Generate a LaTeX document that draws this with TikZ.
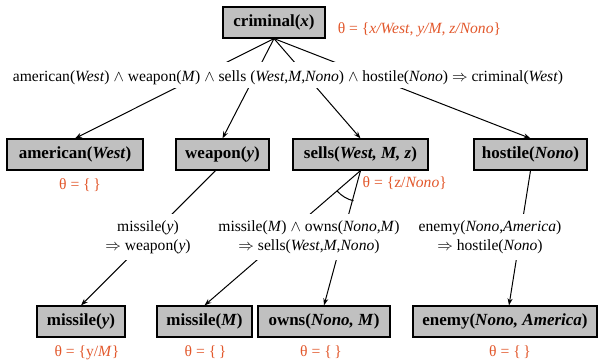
\RequirePackage{fix-cm}
\documentclass[tikz,border=0pt]{standalone}
\usepackage{fontspec}
\setmainfont{Liberation Serif}
\usetikzlibrary{positioning,arrows.meta}
\definecolor{goalgray}{RGB}{192,192,192}
\definecolor{substred}{RGB}{226,88,44}
\tikzstyle{goal} = [rectangle, draw=black, line width=1.2pt, fill=goalgray, minimum height=31pt, inner xsep=2pt, font=\fontsize{17}{20}\selectfont\bfseries]
\tikzstyle{clause} = [fill=white, inner xsep=2pt, align=center, font=\fontsize{15.6}{18.8}\selectfont]
\tikzstyle{subst} = [text=substred, inner sep=0pt, font=\fontsize{15.6}{18.8}\selectfont]
\tikzstyle{arrow} = [line width=1pt, -{Stealth[length=7pt,width=5pt]}]

\begin{document}
\begin{tikzpicture}[x=1pt,y=-1pt]
\useasboundingbox (0,0) rectangle (599,361);

% Goals
\node (criminal) [goal, minimum width=102pt] at (274,22.5) {criminal(\textit{x})};

\node (american) [goal, minimum width=136pt] at (75,154.5) {american(\textit{West})};
\node (weapon) [goal, minimum width=93pt] at (222.5,154.5) {weapon(\textit{y})};
\node (sells) [goal, minimum width=135pt] at (360.5,154.5) {sells(\textit{West, M, z})};
\node (hostile) [goal, minimum width=113pt] at (530.5,154.5) {hostile(\textit{Nono})};

\node (missiley) [goal, minimum width=88pt] at (81,321.5) {missile(\textit{y})};
\node (missileM) [goal, minimum width=95pt] at (204.5,321.5) {missile(\textit{M})};
\node (owns) [goal, minimum width=132pt] at (324,321.5) {owns(\textit{Nono, M})};
\node (enemy) [goal, minimum width=184pt] at (505,321.5) {enemy(\textit{Nono, America})};

% Arrows
\draw [arrow] (criminal.south) -- (american.north);
\draw [arrow] (criminal.south) -- (weapon.north);
\draw [arrow] (criminal.south) -- (sells.north);
\draw [arrow] (criminal.south) -- (hostile.north);

\draw [arrow] ([xshift=-7pt]weapon.south) -- (missiley.north);
\draw [arrow] (sells.south) -- (missileM.north);
\draw [arrow] (sells.south) -- (owns.north);
\draw [arrow] (hostile.south) -- ([xshift=4pt]enemy.north);
\draw [line width=1pt] (sells.south) ++(139:31) arc[start angle=139, end angle=103, radius=31];

% Clauses
\node (topclause) [clause, text height=16pt, text depth=3pt, inner ysep=3.5pt] at (288,75)
  {american(\textit{West}) $\wedge$ weapon(\textit{M}) $\wedge$ sells (\textit{West},\textit{M},\textit{Nono}) $\wedge$ hostile(\textit{Nono}) $\Rightarrow$ criminal(\textit{West})};
\node (weaponclause) [clause, inner ysep=6.5pt] at (148,237)
  {missile(\textit{y})\\ $\Rightarrow$ weapon(\textit{y})};
\node (sellsclause) [clause, inner ysep=6.5pt] at (309,237)
  {missile(\textit{M}) $\wedge$ owns(\textit{Nono},\textit{M})\\ $\Rightarrow$ sells(\textit{West},\textit{M},\textit{Nono})};
\node (hostileclause) [clause, inner ysep=6.5pt] at (490,237)
  {enemy(\textit{Nono},\textit{America})\\ $\Rightarrow$ hostile(\textit{Nono})};

% Substitutions
\node (th0) [subst, right=12pt of criminal, yshift=-7pt] {θ = \{\textit{x/West, y/M, z/Nono}\}};
\node (th1) [subst, below=8pt of american, xshift=5pt] {θ = \{\,\}};
\node (th2) [subst, below right=6pt and 2pt of sells.south] {θ = \{z/\textit{Nono}\}};
\node (th3) [subst, below=8pt of missiley, xshift=6pt] {θ = \{y/\textit{M}\}};
\node (th4) [subst, below=8pt of missileM, xshift=1pt] {θ = \{\,\}};
\node (th5) [subst, below=8pt of owns, xshift=-3pt] {θ = \{\,\}};
\node (th6) [subst, below=8pt of enemy, xshift=5pt] {θ = \{\,\}};
\end{tikzpicture}
\end{document}
